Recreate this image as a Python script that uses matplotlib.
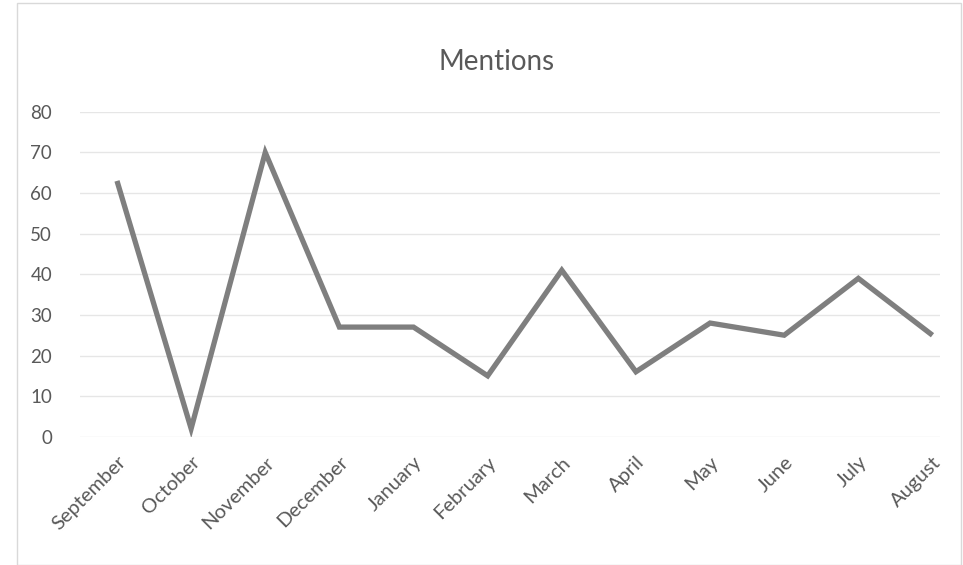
import numpy as np
import matplotlib.pyplot as plt
from matplotlib.patches import Rectangle

plt.rcParams['font.family'] = ['Lato', 'DejaVu Sans']

months = ["September", "October", "November", "December", "January", "February",
          "March", "April", "May", "June", "July", "August"]
mentions = [63, 2, 70, 27, 27, 15, 41, 16, 28, 25, 39, 25]
yticks = [0, 10, 20, 30, 40, 50, 60, 70, 80]

text_col = "#595959"

fig = plt.figure(figsize=(9.63, 5.65), dpi=100)
ax = fig.add_axes([0.083, 0.227, 0.893, 0.575])

x = np.arange(len(months))
ax.plot(x, mentions, color="#7f7f7f", lw=3.8, solid_joinstyle="miter", solid_capstyle="butt")

ax.set_xlim(-0.5, 11.1)
ax.set_ylim(0, 80)
ax.set_yticks(yticks)
ax.set_xticks(x)
ax.set_xticklabels(months, rotation=45, ha="right", rotation_mode="anchor")
ax.grid(axis="y", color="#e6e6e6", lw=1.0)
ax.set_axisbelow(True)
for s in ax.spines.values():
    s.set_visible(False)
ax.tick_params(axis="y", length=0, labelsize=13.5, colors=text_col, pad=20)
ax.tick_params(axis="x", length=0, labelsize=14.5, colors=text_col, pad=12)

ax.set_title("Mentions", fontsize=20, color=text_col, pad=30, x=0.485)

# chart border
fig.patches.append(Rectangle((0.018, 0.0), 0.98, 0.995, transform=fig.transFigure,
                             fill=False, edgecolor="#d9d9d9", lw=1.0))

fig.savefig("out.png", dpi=100)
